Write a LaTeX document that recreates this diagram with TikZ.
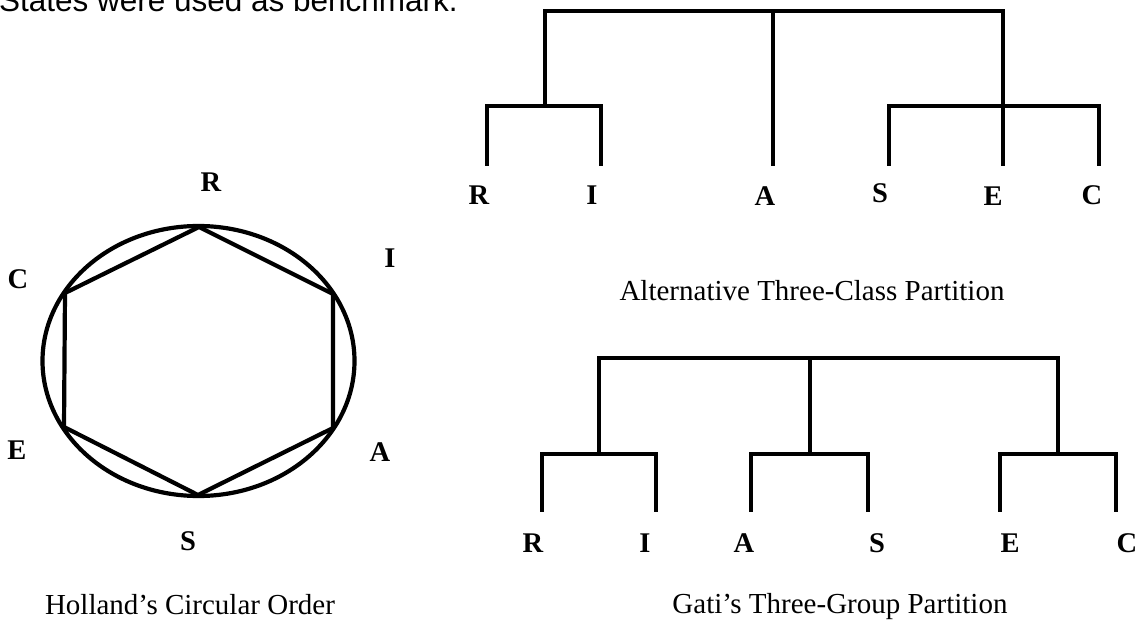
\documentclass[tikz,border=0pt]{standalone}
\usepackage{fontspec}
\setmainfont{Liberation Serif}
\newfontfamily\headsans{Liberation Sans}
\begin{document}
\begin{tikzpicture}[x=1pt,y=-1pt,
  branch/.style={line width=4.2pt, line cap=rect, line join=miter},
  ring/.style={line width=4.2pt, line join=miter},
  letter/.style={font=\fontsize{28.5}{28.5}\selectfont\bfseries, inner sep=0pt},
  caption/.style={font=\fontsize{29}{29}\selectfont, inner sep=0pt},
  runin/.style={font=\headsans\fontsize{31.5}{31.5}\selectfont, inner sep=0pt, anchor=base east}]
\useasboundingbox (0,0) rectangle (1141,631);

% end of the sentence running above the figure
\node[runin] (lead) at (458,12) {States were used as benchmark.};

% ---- Holland's hexagon inscribed in the ellipse ----
\coordinate (hc) at (198.5,361);
\draw[ring] (hc) ellipse [x radius=156, y radius=135];
\coordinate (hR) at (199,227);
\coordinate (hI) at (333,294);
\coordinate (hA) at (333,428);
\coordinate (hS) at (198,495);
\coordinate (hE) at (64,427);
\coordinate (hC) at (65,293);
\draw[ring] (hR) -- (hI) -- (hA) -- (hS) -- (hE) -- (hC) -- cycle;
\node[letter] (cR) at (211,182) {R};
\node[letter] (cI) at (390,258) {I};
\node[letter] (cA) at (380,452) {A};
\node[letter] (cS) at (188,541) {S};
\node[letter] (cE) at (17,450) {E};
\node[letter] (cC) at (18,279) {C};
\node[caption] (holland) at (190,605) {Holland’s Circular Order};

% ---- alternative three-class partition ----
\coordinate (aTopL) at (545,11);
\coordinate (aTopM) at (773,11);
\coordinate (aTopR) at (1003,11);
\coordinate (aJoinRI) at (545,106);
\coordinate (aBarR) at (487,106);
\coordinate (aBarI) at (601,106);
\coordinate (aBarS) at (889,106);
\coordinate (aBarC) at (1099,106);
\coordinate (aLeafR) at (487,164);
\coordinate (aLeafI) at (601,164);
\coordinate (aLeafA) at (773,164);
\coordinate (aLeafS) at (889,164);
\coordinate (aLeafE) at (1003,164);
\coordinate (aLeafC) at (1099,164);
\draw[branch] (aTopL) -- (aTopR);
\draw[branch] (aTopL) -- (aJoinRI);
\draw[branch] (aTopM) -- (aLeafA);
\draw[branch] (aTopR) -- (aLeafE);
\draw[branch] (aLeafR) -- (aBarR) -- (aBarI) -- (aLeafI);
\draw[branch] (aLeafS) -- (aBarS) -- (aBarC) -- (aLeafC);
\node[letter] (aR) at (479,195) {R};
\node[letter] (aI) at (592,195) {I};
\node[letter] (aA) at (765,196) {A};
\node[letter] (aS) at (880,193) {S};
\node[letter] (aE) at (993,196) {E};
\node[letter] (aC) at (1092,195) {C};
\node[caption] (altcap) at (812,291) {Alternative Three-Class Partition};

% ---- Gati's three-group partition ----
\coordinate (gTopL) at (599,358);
\coordinate (gTopM) at (810,358);
\coordinate (gTopR) at (1058,358);
\coordinate (gJoin1) at (599,454);
\coordinate (gJoin2) at (810,454);
\coordinate (gJoin3) at (1058,454);
\coordinate (gBarR) at (542,454);
\coordinate (gBarI) at (656,454);
\coordinate (gBarA) at (751,454);
\coordinate (gBarS) at (868,454);
\coordinate (gBarE) at (1000,454);
\coordinate (gBarC) at (1116,454);
\coordinate (gLeafR) at (542,510);
\coordinate (gLeafI) at (656,510);
\coordinate (gLeafA) at (751,510);
\coordinate (gLeafS) at (868,510);
\coordinate (gLeafE) at (1000,510);
\coordinate (gLeafC) at (1116,510);
\draw[branch] (gTopL) -- (gTopR);
\draw[branch] (gTopL) -- (gJoin1);
\draw[branch] (gTopM) -- (gJoin2);
\draw[branch] (gTopR) -- (gJoin3);
\draw[branch] (gLeafR) -- (gBarR) -- (gBarI) -- (gLeafI);
\draw[branch] (gLeafA) -- (gBarA) -- (gBarS) -- (gLeafS);
\draw[branch] (gLeafE) -- (gBarE) -- (gBarC) -- (gLeafC);
\node[letter] (gR) at (533,543) {R};
\node[letter] (gI) at (645,543) {I};
\node[letter] (gA) at (744,543) {A};
\node[letter] (gS) at (877,543) {S};
\node[letter] (gE) at (1010,543) {E};
\node[letter] (gC) at (1127,543) {C};
\node[caption] (gaticap) at (840,607) {Gati’s Three-Group Partition};
\end{tikzpicture}
\end{document}
